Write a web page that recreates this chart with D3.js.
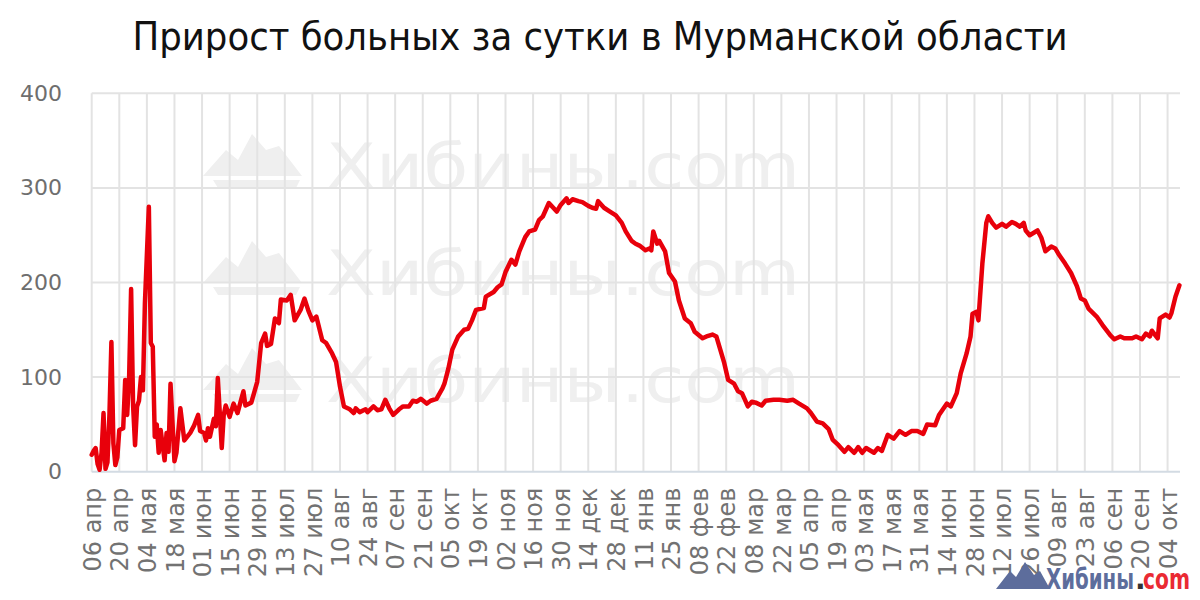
<!DOCTYPE html>
<html><head><meta charset="utf-8">
<script src="https://cdn.jsdelivr.net/npm/d3@7/dist/d3.min.js"></script>
<style>html,body{margin:0;padding:0;background:#fff;}svg{display:block;}</style>
</head><body>
<svg id="chart" width="1200" height="600"></svg>
<script>
const title = "Прирост больных за сутки в Мурманской области";
const startDate = Date.UTC(2020, 3, 6);
// days since 06 Apr 2020
const days = [0,1,2,3,4,5,6,7,8,9,10,11,12,13,14,16,17,18,19,20,21,22,23,24,25,26,27,29,30,31,32,33,34,35,37,38,39,40,42,43,45,47,50,52,54,55,57,58,59,60,62,63,64,66,67,68,70,72,74,77,78,81,84,86,88,89,91,93,95,96,99,101,103,106,108,110,112,114,117,119,122,124,
126,128,131,133,134,136,139,140,143,145,147,149,151,153,156,158,161,163,165,167,170,172,175,178,179,181,183,186,189,191,193,195,199,200,204,206,208,210,213,215,217,220,222,225,227,229,232,236,238,241,242,244,247,249,252,254,256,257,260,263,266,269,271,274,276,278,281,283,284,285,287,288,291,293,296,298,301,304,306,310,312,315,317,319,321,323,326,328,330,333,335,337,
340,342,346,349,353,356,359,363,365,368,371,374,376,379,382,384,387,389,391,393,397,399,401,404,407,410,413,416,419,422,424,428,430,434,436,439,441,444,446,447,449,450,452,454,455,457,459,462,464,467,469,471,473,474,476,480,482,484,487,489,491,494,497,500,502,504,506,510,513,517,519,522,524,528,530,533,535,537,538,541,542,545,547,548,550,552];
const values = [18,22,25,8,2,20,62,3,10,60,137,30,7,15,44,46,97,60,100,193,70,28,69,75,100,86,178,280,136,132,37,50,20,44,12,41,21,93,11,20,67,33,41,49,60,43,41,33,46,37,56,48,99,25,60,70,58,72,62,85,70,73,95,136,146,133,135,162,157,182,181,187,160,171,183,170,160,164,139,136,125,116,
90,69,66,62,67,63,66,63,69,65,66,76,67,60,66,69,69,75,74,77,72,75,77,88,93,109,129,143,150,151,160,171,173,185,190,195,198,211,224,219,233,248,254,256,266,270,284,275,282,289,284,288,286,285,281,279,278,286,279,275,271,263,254,244,241,239,234,236,234,254,241,244,233,210,201,181,162,157,148,141,143,145,143,129,115,97,93,85,83,69,74,73,
70,75,76,76,75,76,72,67,62,53,51,45,34,28,21,26,20,26,20,25,20,25,22,39,35,43,39,43,43,40,50,49,60,72,69,83,104,125,143,167,169,160,220,263,270,263,258,262,259,264,262,259,263,255,250,255,247,233,238,236,229,220,210,196,183,181,172,164,155,144,140,143,141,141,143,140,146,143,149,141,162,166,163,168,185,197];
const tickLabels = ["06 апр","20 апр","04 мая","18 мая","01 июн","15 июн","29 июн","13 июл","27 июл","10 авг","24 авг","07 сен","21 сен","05 окт","19 окт","02 ноя","16 ноя","30 ноя","14 дек","28 дек","11 янв","25 янв","08 фев","22 фев","08 мар","22 мар","05 апр","19 апр","03 мая","17 мая","31 мая","14 июн","28 июн","12 июл","26 июл","09 авг","23 авг","06 сен","20 сен","04 окт"];
const yTicks = [0,100,200,300,400];

const DAY = 86400000;
const data = days.map((d,i)=>({date:new Date(startDate + d*DAY), value:values[i]}));
const tickDates = tickLabels.map((_,i)=>new Date(startDate + i*14*DAY));

const svg = d3.select("#chart");
const L = 91.7, R = 1180, T = 93.3, B = 471.7;
const x = d3.scaleUtc().domain([new Date(startDate), new Date(startDate + 552.3*DAY)]).range([L, R]);
const y = d3.scaleLinear().domain([0,400]).range([B, T]);

// title
svg.append("text").attr("x",600).attr("y",50).attr("text-anchor","middle")
  .attr("font-family","'DejaVu Sans Condensed','DejaVu Sans',sans-serif").attr("font-size",39.5)
  .attr("fill","#111").text(title);

// watermarks
const wm = svg.append("g").attr("fill","#efefef");
[0,107,214].forEach(off=>{
  const g = wm.append("g").attr("transform",`translate(0,${off})`);
  g.append("path").attr("d","M203,176 L226,150 L238,160 L252,134 L266,150 L279,146 L302,176 Z");
  g.append("path").attr("d","M213,180 L300,180 L296,188 L218,188 Z");
  g.append("text").attr("x",326).attr("y",188).attr("font-family","'DejaVu Sans',sans-serif")
    .attr("font-size",62).attr("textLength",474).attr("lengthAdjust","spacingAndGlyphs").text("Хибины.com");
});

// grid
const grid = svg.append("g");
grid.selectAll("line.v").data(tickDates).join("line")
  .attr("x1",d=>x(d)).attr("x2",d=>x(d)).attr("y1",T).attr("y2",B)
  .attr("stroke","#e3e3e3").attr("stroke-width",2);
grid.selectAll("line.h").data(yTicks.filter(v=>v>0)).join("line")
  .attr("x1",L).attr("x2",R).attr("y1",d=>y(d)).attr("y2",d=>y(d))
  .attr("stroke","#e3e3e3").attr("stroke-width",2);
svg.append("line").attr("x1",L).attr("x2",R).attr("y1",B).attr("y2",B)
  .attr("stroke","#d3dbe3").attr("stroke-width",2);

// y axis labels
const yAxis = d3.axisLeft(y).tickValues(yTicks).tickSize(0).tickPadding(0);
const ya = svg.append("g").attr("transform",`translate(62,0)`).call(yAxis);
ya.select(".domain").remove();
ya.selectAll("text").attr("font-family","'DejaVu Sans',sans-serif").attr("font-size",22).attr("fill","#6e6e6e");

// x axis labels
const xAxis = d3.axisBottom(x).tickValues(tickDates).tickSize(0).tickFormat((d,i)=>tickLabels[i]);
const xa = svg.append("g").attr("transform",`translate(0,${B})`).call(xAxis);
xa.select(".domain").remove();
xa.selectAll("text").attr("font-family","'DejaVu Sans',sans-serif").attr("font-size",24).attr("fill","#727272")
  .attr("text-anchor","end").attr("transform","rotate(-90)").attr("x",-16).attr("y",0).attr("dy","0.36em");

// line
const line = d3.line().x(d=>x(d.date)).y(d=>y(d.value));
svg.append("path").datum(data).attr("d",line).attr("fill","none")
  .attr("stroke","#e8000b").attr("stroke-width",4.5).attr("stroke-linejoin","round").attr("stroke-linecap","round");

// bottom-right logo
const logo = svg.append("g");
logo.append("path").attr("d","M996,589 L1010,571 L1016,577 L1025,562 L1034,575 L1040,571 L1050,589 Z").attr("fill","#5d6d9c");
logo.append("text").attr("x",1046).attr("y",589).attr("font-family","'DejaVu Sans',sans-serif")
  .attr("font-size",28).attr("font-weight","bold").attr("fill","#5d6d9c")
  .attr("textLength",88).attr("lengthAdjust","spacingAndGlyphs").text("Хибины");
logo.append("text").attr("x",1135).attr("y",589).attr("font-family","'DejaVu Sans',sans-serif")
  .attr("font-size",28).attr("font-weight","bold").attr("fill","#333").text(".");
logo.append("text").attr("x",1143).attr("y",589).attr("font-family","'DejaVu Sans',sans-serif")
  .attr("font-size",28).attr("font-weight","bold").attr("fill","#ea2a33")
  .attr("textLength",47).attr("lengthAdjust","spacingAndGlyphs").text("com");
</script>
</body></html>
